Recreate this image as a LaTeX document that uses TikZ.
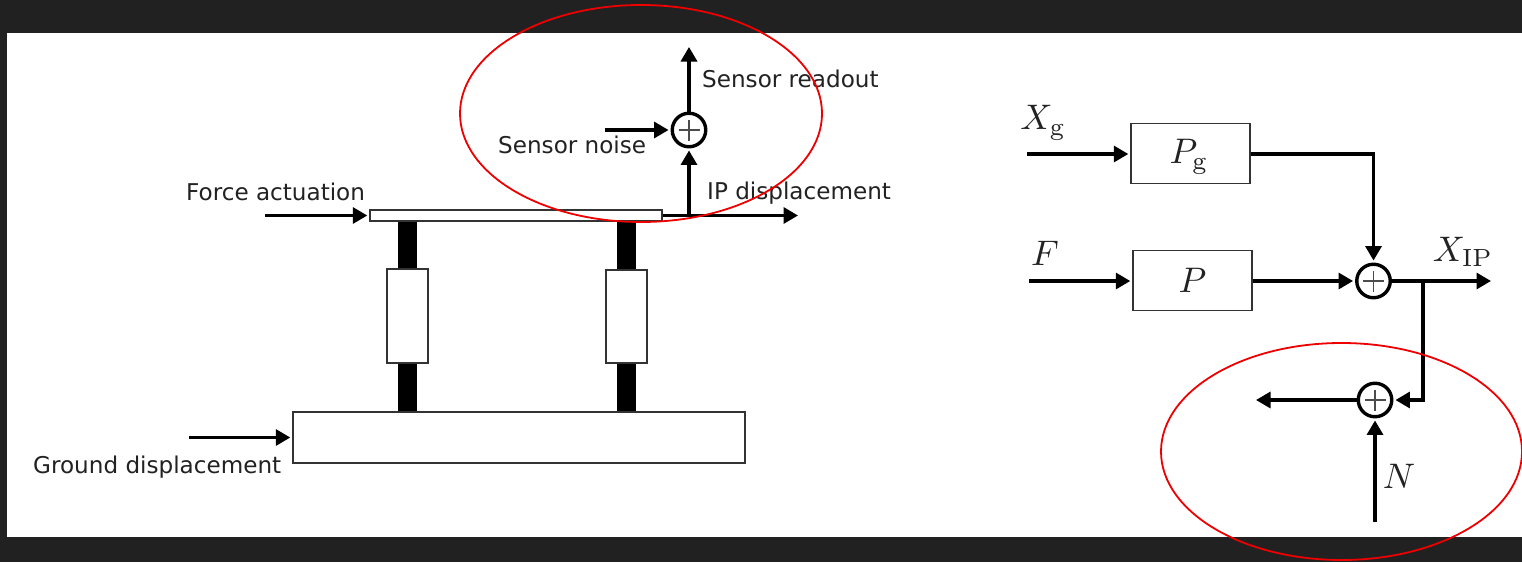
\documentclass[tikz,border=0pt]{standalone}
\usepackage{graphicx}
\usepackage{fontspec}
\newfontfamily\dvfont{DejaVu Sans}
\usetikzlibrary{arrows.meta}
\definecolor{darkbg}{HTML}{212121}
\definecolor{inktext}{HTML}{222222}
\definecolor{circlered}{HTML}{EE0000}
\newcommand{\bigmath}[1]{\scalebox{3.55}{$#1$}}
\tikzset{
  lab/.style={anchor=base west,inner sep=0pt,text=inktext,font=\dvfont\fontsize{23.1}{27}\selectfont},
  mathlab/.style={inner sep=0pt,text=inktext},
  conn/.style={line width=3.3pt,-{Triangle[length=14.5pt,width=16pt]},shorten >=2pt},
  thinbox/.style={draw=black!80,line width=1.4pt,fill=white,inner sep=0pt},
  leg/.style={fill=black,draw=none,inner sep=0pt},
  sumnode/.style={circle,draw=black,line width=3.4pt,fill=white,minimum size=33.5pt,inner sep=0pt,
    path picture={\draw[line width=1.2pt,black!70] (path picture bounding box.center)+(-10.5pt,0)--+(10.5pt,0)
      (path picture bounding box.center)+(0,-10.5pt)--+(0,10.5pt);}},
  redring/.style={draw=circlered,line width=1.8pt}
}
\begin{document}
\begin{tikzpicture}[x=1pt,y=-1pt]
\useasboundingbox (0,0) rectangle (1522,562);
\fill[darkbg] (0,0) rectangle (1522,562);
\fill[white] (7,33) rectangle (1522,537);

% legs
\node[leg,minimum width=19pt,minimum height=191pt] (legL) at (407,317) {};
\node[leg,minimum width=19pt,minimum height=191pt] (legR) at (626.5,317) {};
% mechanical parts
\node[thinbox,minimum width=292pt,minimum height=11pt] (plate) at (516,215.5) {};
\node[thinbox,minimum width=41pt,minimum height=94pt] (dampL) at (407.5,316) {};
\node[thinbox,minimum width=41pt,minimum height=93pt] (dampR) at (626.5,316.5) {};
\node[thinbox,minimum width=452pt,minimum height=51pt] (base) at (519,437.5) {};

% left sum
\node[sumnode] (sumA) at (689,130) {};
\coordinate (forceIn) at (265,215.5);
\coordinate (groundIn) at (189,437.5);
\coordinate (ipOut) at (798,215.5);
\coordinate (ipTap) at (689,215.5);
\coordinate (readOut) at (689,47);
\coordinate (noiseIn) at (605,130);
\draw[conn] (forceIn) -- (plate.west);
\draw[conn] (groundIn) -- (base.west);
\draw[conn,shorten >=0pt] (plate.east) -- (ipOut);
\draw[conn] (ipTap) -- (sumA.south);
\draw[conn,shorten >=0pt] (sumA.north) -- (readOut);
\draw[conn] (noiseIn) -- (sumA.west);

\node[lab] (tReadout) at (702,87) {Sensor readout};
\node[lab] (tNoise) at (498,153) {Sensor noise};
\node[lab] (tIP) at (707,199) {IP displacement};
\node[lab] (tForce) at (186,200) {Force actuation};
\node[lab] (tGround) at (33,473) {Ground displacement};

% block diagram
\node[thinbox,minimum width=119pt,minimum height=60.5pt] (Pg) at (1190.5,153.5) {};
\node[thinbox,minimum width=119pt,minimum height=60.5pt] (P) at (1192.5,280.5) {};
\node[mathlab] at (1189,157) {\bigmath{P_{\mathrm{g}}}};
\node[mathlab] at (P) {\bigmath{P}};
\node[sumnode] (sumB) at (1373.5,281) {};
\node[sumnode] (sumC) at (1375,400) {};
\coordinate (xgIn) at (1027,154);
\coordinate (fIn) at (1029,281);
\coordinate (xOut) at (1491,281);
\coordinate (branch) at (1423,281);
\coordinate (fbOut) at (1256,400);
\coordinate (nIn) at (1375,522);
\draw[conn] (xgIn) -- (Pg.west |- xgIn);
\draw[conn] (fIn) -- (P.west |- fIn);
\draw[conn] (Pg.east |- xgIn) -| (sumB.north);
\draw[conn] (P.east |- fIn) -- (sumB.west);
\draw[conn,shorten >=0pt] (sumB.east) -- (xOut);
\draw[conn] (branch) |- (sumC.east);
\draw[conn,shorten >=0pt] (sumC.west) -- (fbOut);
\draw[conn] (nIn) -- (sumC.south);

\node[mathlab] (tXg) at (1043,123) {\bigmath{X_{\mathrm{g}}}};
\node[mathlab] (tF) at (1045,253) {\bigmath{F}};
\node[mathlab] (tXIP) at (1463,252) {\bigmath{X_{\mathrm{IP}}}};
\node[mathlab] (tN) at (1399,476) {\bigmath{N}};

% red ellipses
\draw[redring] (641,113.5) ellipse [x radius=181,y radius=108.5];
\draw[redring] (1341.5,451.5) ellipse [x radius=180.5,y radius=108.5];
\end{tikzpicture}
\end{document}
